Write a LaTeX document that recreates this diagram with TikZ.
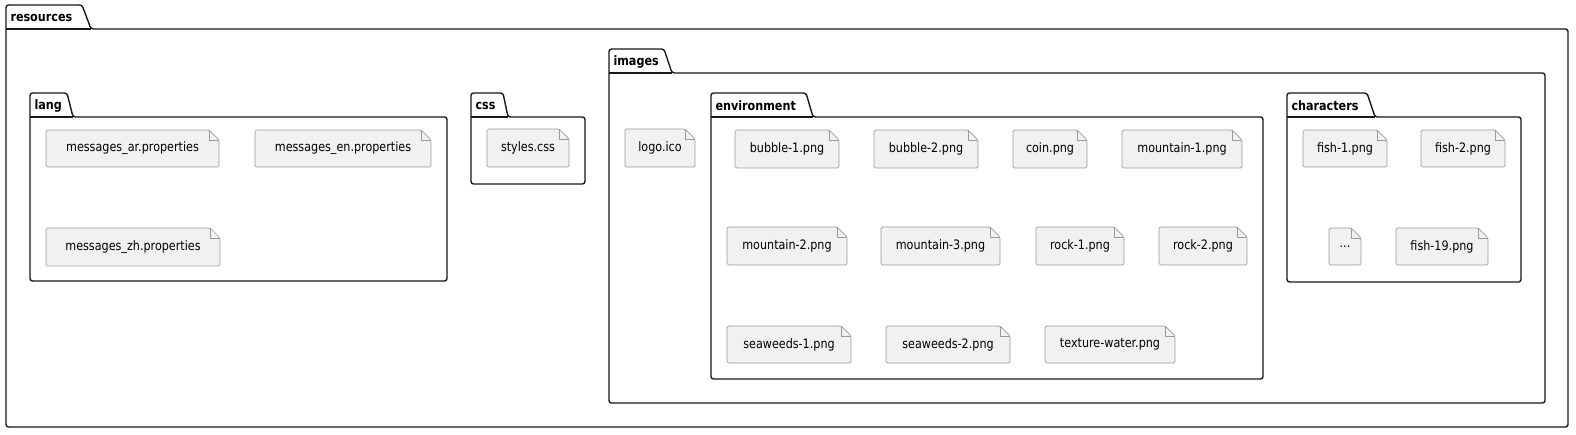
\documentclass[tikz,border=0pt]{standalone}
\usepackage{fontspec}
\setmainfont{DejaVu Sans}[FakeStretch=0.86]
\usetikzlibrary{backgrounds}
\definecolor{pkgcol}{HTML}{181818}
\definecolor{filecol}{HTML}{9A9A9A}
\definecolor{filebg}{HTML}{F1F1F1}
\tikzset{
  pkgline/.style={draw=pkgcol, line width=1.4pt, rounded corners=2.5pt, line join=round},
  pkgsep/.style={draw=pkgcol, line width=1.4pt},
  pkglabel/.style={font=\bfseries\fontsize{13}{15}\selectfont, inner sep=0pt, outer sep=0pt, anchor=west, text=black},
  filetext/.style={font=\fontsize{13}{15}\selectfont, inner sep=0pt, outer sep=0pt, draw=none, text=black},
  fileshape/.style={fill=filebg, draw=filecol, line width=0.7pt, rounded corners=1.5pt},
  fileline/.style={draw=filecol, line width=0.7pt},
}
% name, x0, tabtop, slanttop, slantbottom, bodytop, x1, bottom, label
\newcommand\pkgbox[9]{%
  \draw[pkgline] (#2,#6) -- (#2,#3) -- (#4,#3) -- (#5,#6) -- (#7,#6) -- (#7,#8) -- (#2,#8) -- cycle;
  \draw[pkgsep] (#2,#6) -- (#5,#6);
  \node[pkglabel] (#1) at ({#2+4.5},{(#3+#6)/2+0.5}) {#9};
}
% name, x0, y0, x1, y1, text
\newcommand\fileitem[6]{%
  \node[filetext, minimum width={(#4-#2)*1pt}, minimum height={(#5-#3)*1pt}] (#1) at ({(#2+#4)/2},{(#3+#5)/2}) {#6};
  \begin{pgfonlayer}{background}
    \path[fileshape] (#1.south west) -- (#1.north west) -- ([xshift=-10pt]#1.north east) -- ([yshift=-10pt]#1.north east) -- (#1.south east) -- cycle;
    \draw[fileline] ([xshift=-10pt]#1.north east) |- ([yshift=-10pt]#1.north east);
  \end{pgfonlayer}
}
\begin{document}
\begin{tikzpicture}[x=1pt,y=-1pt]
\begin{pgfonlayer}{background}
\fill[white] (0,0) rectangle (1576,435);
\end{pgfonlayer}
\useasboundingbox (0,0) rectangle (1576,435);

\pkgbox{resources}{6}{5}{82}{91}{29}{1568}{427}{resources}
\pkgbox{lang}{30}{93}{67}{73}{117}{447}{281}{lang}
\pkgbox{css}{471}{93}{503}{508}{117}{585}{184}{css}
\pkgbox{images}{609}{49}{664}{672}{73}{1545}{403}{images}
\pkgbox{environment}{711}{93}{806}{813}{117}{1263}{379}{environment}
\pkgbox{characters}{1287}{93}{1367}{1375}{117}{1521}{282}{characters}

\fileitem{msgar}{46}{130}{219}{167}{messages\_ar.properties}
\fileitem{msgen}{255}{130}{431}{167}{messages\_en.properties}
\fileitem{msgzh}{46}{228}{220}{266}{messages\_zh.properties}

\fileitem{styles}{487}{129}{569}{167}{styles.css}

\fileitem{logo}{625}{129}{695}{167}{logo.ico}

\fileitem{bub1}{735}{130}{839}{168}{bubble-1.png}
\fileitem{bub2}{874}{130}{978}{168}{bubble-2.png}
\fileitem{coin}{1013}{130}{1087}{168}{coin.png}
\fileitem{mnt1}{1122}{130}{1242}{168}{mountain-1.png}

\fileitem{mnt2}{727}{227}{847}{265}{mountain-2.png}
\fileitem{mnt3}{881}{227}{1000}{265}{mountain-3.png}
\fileitem{rock1}{1036}{227}{1124}{265}{rock-1.png}
\fileitem{rock2}{1159}{227}{1247}{265}{rock-2.png}

\fileitem{sea1}{727}{326}{851}{363}{seaweeds-1.png}
\fileitem{sea2}{886}{326}{1010}{363}{seaweeds-2.png}
\fileitem{water}{1045}{326}{1175}{363}{texture-water.png}

\fileitem{fish1}{1303}{130}{1387}{167}{fish-1.png}
\fileitem{fish2}{1421}{130}{1505}{167}{fish-2.png}
\fileitem{dots}{1329}{228}{1361}{265}{...}
\fileitem{fish19}{1396}{228}{1488}{265}{fish-19.png}
\end{tikzpicture}
\end{document}
